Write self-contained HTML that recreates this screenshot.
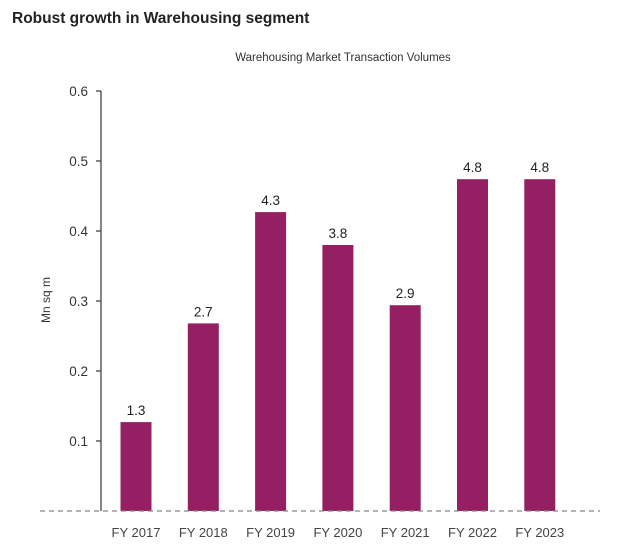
<!DOCTYPE html>
<html><head><meta charset="utf-8"><style>
body{margin:0;background:#fff;width:623px;height:551px;overflow:hidden;font-family:"Liberation Sans",sans-serif}
</style></head><body>
<svg width="623" height="551" id="chart">
<text x="12" y="23" font-size="15.5" font-weight="bold" fill="#222">Robust growth in Warehousing segment</text>
<text x="343" y="61" font-size="11.5" fill="#333" text-anchor="middle">Warehousing Market Transaction Volumes</text>
<text transform="translate(50,300) rotate(-90)" font-size="12" fill="#333" text-anchor="middle">Mn sq m</text>
<g id="g"></g>
</svg>
<script>
const categories=["FY 2017","FY 2018","FY 2019","FY 2020","FY 2021","FY 2022","FY 2023"];
const values=[0.127,0.268,0.427,0.38,0.294,0.474,0.474];
const valueLabels=["1.3","2.7","4.3","3.8","2.9","4.8","4.8"];
const yTicks=[0.1,0.2,0.3,0.4,0.5,0.6];
const yTickLabels=["0.1","0.2","0.3","0.4","0.5","0.6"];
const NS="http://www.w3.org/2000/svg";
const g=document.getElementById('g');
const y=v=>511-v*700;
const x=i=>136+i*67.3;
function mk(t,a,txt){const e=document.createElementNS(NS,t);for(const k in a)e.setAttribute(k,a[k]);if(txt!=null)e.textContent=txt;g.appendChild(e);return e;}
let ax=mk('line',{x1:101,y1:y(0.6),x2:101,y2:511,stroke:'#444','stroke-width':1.3});


yTicks.forEach((t,i)=>{
 let l=mk('line',{x1:96,x2:101,y1:y(t),y2:y(t),stroke:'#444','stroke-width':1.3});
 
 
 let tx=mk('text',{x:88,y:y(t)+5,'font-size':13.5,fill:'#333','text-anchor':'end'},yTickLabels[i]);
 
 
});
categories.forEach((c,i)=>{
 let b=mk('rect',{x:x(i)-15.5,y:y(values[i]),width:31,height:511-y(values[i]),fill:'#951f63'});
 
 
 let v=mk('text',{x:x(i),y:y(values[i])-7,'font-size':13.5,fill:'#222','text-anchor':'middle'},valueLabels[i]);
 
 
 let cl=mk('text',{x:x(i),y:537,'font-size':13,fill:'#444','text-anchor':'middle'},c);
 
 
});
let bl=mk('line',{x1:40,x2:600,y1:511,y2:511,stroke:'#888','stroke-width':1.2,'stroke-dasharray':'5,4'});


</script>
</body></html>
